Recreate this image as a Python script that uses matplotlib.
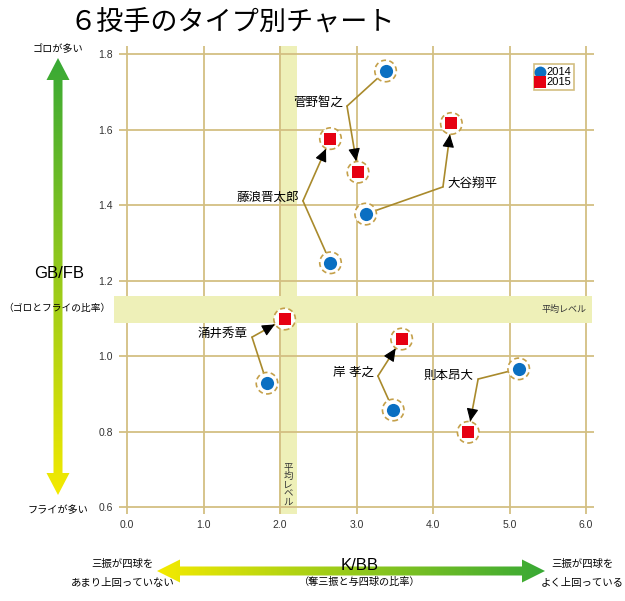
import matplotlib
matplotlib.use('Agg')
import matplotlib.pyplot as plt
import numpy as np
from matplotlib.patches import Polygon, Rectangle
from matplotlib.colors import LinearSegmentedColormap

plt.rcParams['font.family'] = ['Liberation Sans', 'Noto Sans CJK JP', 'DejaVu Sans']

# data (K/BB, GB/FB)
pitchers = ['菅野智之', '藤浪晋太郎', '大谷翔平', '涌井秀章', '岸 孝之', '則本昂大']
kbb_2014 = [3.38, 2.66, 3.12, 1.83, 3.48, 5.12]
gbfb_2014 = [1.755, 1.247, 1.376, 0.928, 0.857, 0.966]
kbb_2015 = [3.02, 2.66, 4.24, 2.06, 3.59, 4.46]
gbfb_2015 = [1.487, 1.576, 1.616, 1.098, 1.045, 0.798]
years = ['2014', '2015']

# average level bands
avg_kbb = (1.99, 2.22)
avg_gbfb = (1.087, 1.159)

x_ticks = [0, 1, 2, 3, 4, 5, 6]
y_ticks = [0.6, 0.8, 1.0, 1.2, 1.4, 1.6, 1.8]

# where each name label sits (elbow of the connector) and its side
label_pos = [(2.876, 1.662), (2.30, 1.411), (4.13, 1.448),
             (1.634, 1.050), (3.28, 0.947), (4.59, 0.939)]
label_ha = ['right', 'right', 'left', 'right', 'right', 'right']

grid_c = '#D3BF82'
band_c = '#EEF0B8'
line_c = '#A98A2C'
blue = '#0A6FC2'
red = '#E60012'

fig = plt.figure(figsize=(6.25, 6.01), dpi=100)
ax = fig.add_axes([0.19096, 0.14476, 0.75888, 0.77787])
ax.set_xlim(-0.1, 6.1)
ax.set_ylim(0.5815, 1.8199)
for s in ax.spines.values():
    s.set_visible(False)

ax.set_xticks(x_ticks)
ax.set_yticks(y_ticks)
ax.set_xticklabels(['%.1f' % v for v in x_ticks])
ax.set_yticklabels(['%.1f' % v for v in y_ticks])
ax.tick_params(length=0, labelsize=7.5, labelcolor='#333333', pad=4.5)
ax.grid(True, color=grid_c, linewidth=1.3, zorder=1)
ax.set_axisbelow(True)

# bands
ax.axvspan(avg_kbb[0], avg_kbb[1], color=band_c, lw=0, zorder=0.5)
ax.add_patch(Rectangle((-0.17, avg_gbfb[0]), 6.25, avg_gbfb[1] - avg_gbfb[0],
                       facecolor=band_c, lw=0, zorder=1.5, clip_on=False))
ax.text(6.01, (avg_gbfb[0] + avg_gbfb[1]) / 2, '平均レベル', fontsize=6.5,
        ha='right', va='center', color='#333333', zorder=2)
ax.text(sum(avg_kbb) / 2, 0.658, '\n'.join('平均レベル'), fontsize=6.8,
        ha='center', va='center', linespacing=0.95, color='#333333', zorder=2)

# connectors and labels
shrink_pt = 8
head_px = 12
for i, name in enumerate(pitchers):
    ex, ey = label_pos[i]
    ax.annotate('', xy=(kbb_2014[i], gbfb_2014[i]), xytext=(ex, ey),
                arrowprops=dict(arrowstyle='-', color=line_c, lw=1.2,
                                shrinkA=0, shrinkB=shrink_pt), zorder=3)
    ax.annotate('', xy=(kbb_2015[i], gbfb_2015[i]), xytext=(ex, ey),
                arrowprops=dict(arrowstyle='-', color=line_c, lw=1.2,
                                shrinkA=0, shrinkB=shrink_pt), zorder=3)
    # black arrowhead at the 2015 end
    p0 = ax.transData.transform((ex, ey))
    p1 = ax.transData.transform((kbb_2015[i], gbfb_2015[i]))
    d = (p1 - p0) / np.hypot(*(p1 - p0))
    start = ax.transData.inverted().transform(p1 - d * (shrink_pt * 100 / 72 + head_px))
    ax.annotate('', xy=(kbb_2015[i], gbfb_2015[i]), xytext=start,
                arrowprops=dict(arrowstyle='-|>,head_length=0.65,head_width=0.3',
                                color='black', lw=0.8, shrinkA=0, shrinkB=shrink_pt,
                                mutation_scale=12), zorder=3.5)
    off = -3 if label_ha[i] == 'right' else 3
    ax.annotate(name, xy=(ex, ey), xytext=(off, 2), textcoords='offset points',
                ha=label_ha[i], va='center', fontsize=9, zorder=4)

# dashed rings and markers
ax.scatter(kbb_2014 + kbb_2015, gbfb_2014 + gbfb_2015, s=240, facecolors='white',
           edgecolors='#C4A04A', linewidths=1.2, linestyle=(0, (3, 2)), zorder=4)
p14 = ax.scatter(kbb_2014, gbfb_2014, s=90, marker='o', color=blue, lw=0, zorder=5)
p15 = ax.scatter(kbb_2015, gbfb_2015, s=78, marker='s', color=red, lw=0, zorder=5)

leg = ax.legend([p14, p15], years, loc='upper right', bbox_to_anchor=(0.9586, 0.9626),
                borderaxespad=0, fontsize=8, markerscale=0.9, handlelength=0.7,
                handletextpad=0.2, borderpad=0.25, labelspacing=0.05,
                fancybox=False, framealpha=1, edgecolor=grid_c)
leg.get_frame().set_linewidth(1.2)
leg.set_zorder(6)

# overlay in pixel coordinates for title and gradient arrows
ov = fig.add_axes([0, 0, 1, 1])
ov.patch.set_visible(False)
ov.axis('off')
green = '#38A935'
yellow = '#F4EA00'
cmap_v = LinearSegmentedColormap.from_list('gy', [green, yellow])
cmap_h = LinearSegmentedColormap.from_list('yg', [yellow, green])


def v_arrow(x, y0, y1, sw=4.5, hw=11.5, hl=22):
    return [(x, y0), (x + hw, y0 + hl), (x + sw, y0 + hl), (x + sw, y1 - hl),
            (x + hw, y1 - hl), (x, y1), (x - hw, y1 - hl), (x - sw, y1 - hl),
            (x - sw, y0 + hl), (x - hw, y0 + hl)]


def h_arrow(y, x0, x1, sw=4.5, hw=11.5, hl=23):
    return [(py, px) for (px, py) in v_arrow(y, x0, x1, sw, hw, hl)]


poly = Polygon(v_arrow(58, 58, 495), closed=True, facecolor='none', edgecolor='none')
ov.add_patch(poly)
im = ov.imshow(np.linspace(0, 1, 256).reshape(-1, 1), cmap=cmap_v, aspect='auto',
               extent=(40, 76, 495, 58), interpolation='bilinear')
im.set_clip_path(poly)

poly2 = Polygon(h_arrow(571, 157, 545), closed=True, facecolor='none', edgecolor='none')
ov.add_patch(poly2)
im2 = ov.imshow(np.linspace(0, 1, 256).reshape(1, -1), cmap=cmap_h, aspect='auto',
                extent=(157, 545, 590, 552), interpolation='bilinear')
im2.set_clip_path(poly2)

ov.text(69, 23, '６投手のタイプ別チャート', fontsize=19.5, ha='left', va='center')
ov.text(58, 49, 'ゴロが多い', fontsize=7.3, ha='center', va='center')
ov.text(58, 510, 'フライが多い', fontsize=7.3, ha='center', va='center')
ov.text(59, 273, 'GB/FB', fontsize=12, ha='center', va='center')
ov.text(57, 308, '（ゴロとフライの比率）', fontsize=7, ha='center', va='center')
ov.text(360, 565, 'K/BB', fontsize=12, ha='center', va='center')
ov.text(360, 582, '（奪三振と与四球の比率）', fontsize=7.3, ha='center', va='center')
ov.text(122, 564, '三振が四球を', fontsize=7.5, ha='center', va='center')
ov.text(123, 583, 'あまり上回っていない', fontsize=7.5, ha='center', va='center')
ov.text(582, 564, '三振が四球を', fontsize=7.5, ha='center', va='center')
ov.text(582, 583, 'よく上回っている', fontsize=7.5, ha='center', va='center')
ov.set_xlim(0, 625)
ov.set_ylim(601, 0)

fig.savefig('out.png', dpi=100)
